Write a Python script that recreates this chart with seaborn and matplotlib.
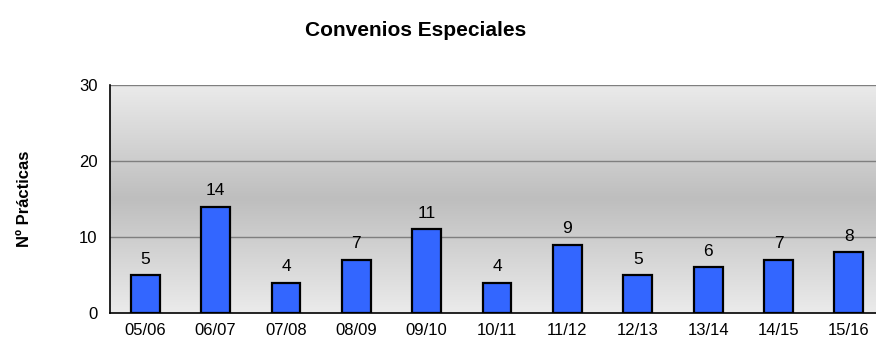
import numpy as np
import pandas as pd
import matplotlib
matplotlib.use('Agg')
import matplotlib.pyplot as plt
from matplotlib.colors import LinearSegmentedColormap
import seaborn as sns

# Data
cursos = ['05/06', '06/07', '07/08', '08/09', '09/10', '10/11',
          '11/12', '12/13', '13/14', '14/15', '15/16']
practicas = [5, 14, 4, 7, 11, 4, 9, 5, 6, 7, 8]
y_ticks = [0, 10, 20, 30]

df = pd.DataFrame({'curso': cursos, 'practicas': practicas})

sns.set_style('white')
plt.rcParams['font.family'] = ['Liberation Sans', 'DejaVu Sans']
plt.rcParams['text.color'] = 'black'
plt.rcParams['xtick.labelcolor'] = 'black'
plt.rcParams['ytick.labelcolor'] = 'black'
plt.rcParams['axes.labelcolor'] = 'black'

fig = plt.figure(figsize=(8.76, 3.44), dpi=100)
ax = fig.add_axes([0.1256, 0.0901, 0.8836, 0.6628])

# gradient background, light at top and bottom, darker in the middle
cmap = LinearSegmentedColormap.from_list('bg', ['#ebebeb', '#bebebe', '#ebebeb'])
grad = np.linspace(0, 1, 256).reshape(-1, 1)
ax.imshow(grad, cmap=cmap, aspect='auto', extent=(-0.5, 10.5, 0, 30),
          zorder=0, interpolation='bicubic')

for y in y_ticks[1:]:
    ax.axhline(y, color='#7f7f7f', lw=1, zorder=1)

sns.barplot(data=df, x='curso', y='practicas', color='#3366ff', saturation=1,
            width=0.41, edgecolor='black', linewidth=1.6, ax=ax, zorder=2)
ax.bar_label(ax.containers[0], padding=6, fontsize=12.5, color='black')

ax.set_xlim(-0.5, 10.5)
ax.set_ylim(0, 30)
ax.set_yticks(y_ticks)
ax.set_xticks(range(len(cursos)))
ax.set_xticklabels(cursos)
ax.set_xticks(np.arange(-0.5, 10.6, 1), minor=True)
ax.tick_params(axis='x', which='major', length=0, labelsize=12, pad=7)
ax.tick_params(axis='x', which='minor', length=5, color='#808080', direction='out')
ax.tick_params(axis='y', length=5, color='#808080', direction='out', labelsize=12, pad=4)

for s in ['top', 'right']:
    ax.spines[s].set_visible(False)
ax.spines['left'].set_color('black')
ax.spines['bottom'].set_color('black')
ax.spines['left'].set_linewidth(1.2)
ax.spines['bottom'].set_linewidth(1.2)

ax.set_xlabel('')
ax.set_ylabel('Nº Prácticas', fontsize=12, fontweight='bold', labelpad=34)
fig.text(0.474, 0.91, 'Convenios Especiales', ha='center', va='center',
         fontsize=15, fontweight='bold')

fig.savefig('out.png', dpi=100)
